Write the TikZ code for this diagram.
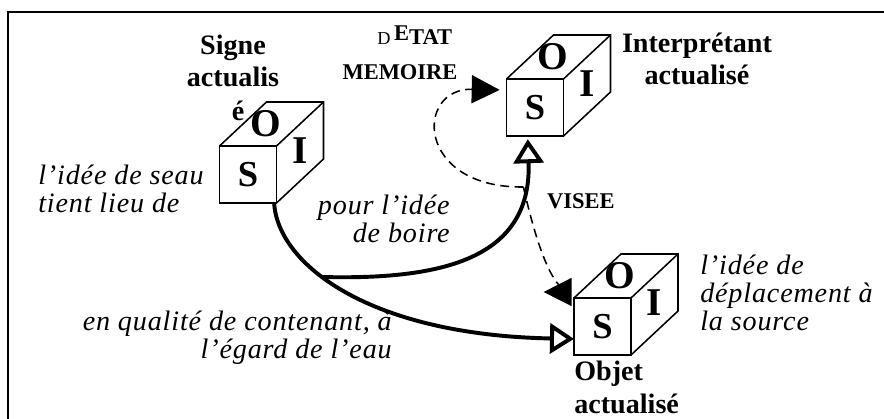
\documentclass[tikz,border=0pt]{standalone}
\usepackage{fontspec}
\setmainfont{Liberation Serif}
\usetikzlibrary{arrows.meta,positioning,calc}

\newcommand{\oicube}[2]{%
  \node[face] (#1) at (#2) {S};
  \draw[edge] (#1.north west) -- ++(1.175,1.1) -- ++(1.425,0) -- ++(0,-1.425) -- (#1.south east);
  \draw[edge] (#1.north east) -- ++(1.175,1.1);
  \node[letter] at ($(#1.north)+(0.44,0.55)$) {O};
  \node[letter] at ($(#1.east)+(0.58,0.6)$) {I};
}

\begin{document}
\begin{tikzpicture}[
      face/.style={
        draw,
        line width=1.1pt,
        minimum size=1.425cm,
        inner sep=0pt,
        outer sep=0pt,
        font=\bfseries\fontsize{26}{26}\selectfont
      },
      edge/.style={line width=1.1pt},
      letter/.style={font=\bfseries\fontsize{28}{28}\selectfont,inner sep=0pt},
      title/.style={font=\bfseries\fontsize{20}{23}\selectfont,align=center,inner sep=0pt},
      gloss/.style={font=\itshape\fontsize{20}{20}\selectfont\addfontfeatures{LetterSpace=3},inner sep=0pt},
      tag/.style={font=\bfseries\fontsize{16}{16}\selectfont,inner sep=0pt},
      flow/.style={line width=2.8pt,-{Triangle[open,length=0.6cm,width=0.75cm]}},
      aim/.style={line width=1.1pt,dash pattern=on 0.22cm off 0.14cm,-{Triangle[length=0.7cm,width=0.7cm]}}
    ]
    \useasboundingbox (0,0) rectangle (22.1,10.475);
    \draw[line width=1.2pt] (22.1,10.175) -- (0.2,10.175) -- (0.2,0);

    % Cubes
    \oicube{signe}{6.2,6.1125}
    \oicube{interp}{13.375,7.7875}
    \oicube{objet}{15.0625,2.3125}

    % Titles
    \node[title] (signelbl) at (5.825,8.95) {Signe\\actualis};
    \node[title] (signeacc) at (5.95,7.7) {é};
    \node[title] (interplbl) at (17.425,9.0) {Interprétant\\actualisé};
    \node[title,align=left,below right=0.15cm and 0cm of objet.south west] (objetlbl) {Objet\\actualisé};

    % Glosses
    \node[gloss,align=left,anchor=west] (seau) at (0.95,5.75) {l’idée de seau\\tient lieu de};
    \node[gloss,align=right,anchor=east] (boire) at (11.25,5.0) {pour l’idée\\de boire};
    \node[gloss,align=right,anchor=east] (eau) at (9.8,2.025) {en qualité de contenant, à\\l’égard de l’eau};
    \node[gloss,align=left,anchor=west] (source) at (17.5,3.15) {l’idée de\\déplacement à\\la source};

    % Tags
    \node[tag] (memoire) at (10.0,8.675) {MEMOIRE};
    \node[tag,anchor=base west] (etat) at (9.425,9.35) {{\mdseries\fontsize{13}{13}\selectfont D}\,\raisebox{3.5pt}{E}TAT};
    \node[tag] (visee) at (14.525,5.44) {VISEE};

    % Connectors
    \draw[flow] ([xshift=-0.06cm]signe.south east) .. controls (6.95,3.85) and (9.25,2.1) .. ([yshift=-0.31cm]objet.west);
    \coordinate (fork) at (8.025,3.55);
    \draw[flow] (fork) .. controls (11.0,3.475) and (13.3,3.975) .. ([xshift=-0.18cm,yshift=-0.08cm]interp.south) coordinate[pos=0.85] (vise);
    \draw[aim] (vise) .. controls (10.375,5.775) and (10.375,8.275) .. ([shift={(-0.17,0.44)}]interp.west);
    \draw[aim] (vise) .. controls (13.5,3.975) and (13.9,3.175) .. ([shift={(-0.76,0.15)}]objet.north west);
  \end{tikzpicture}
\end{document}
